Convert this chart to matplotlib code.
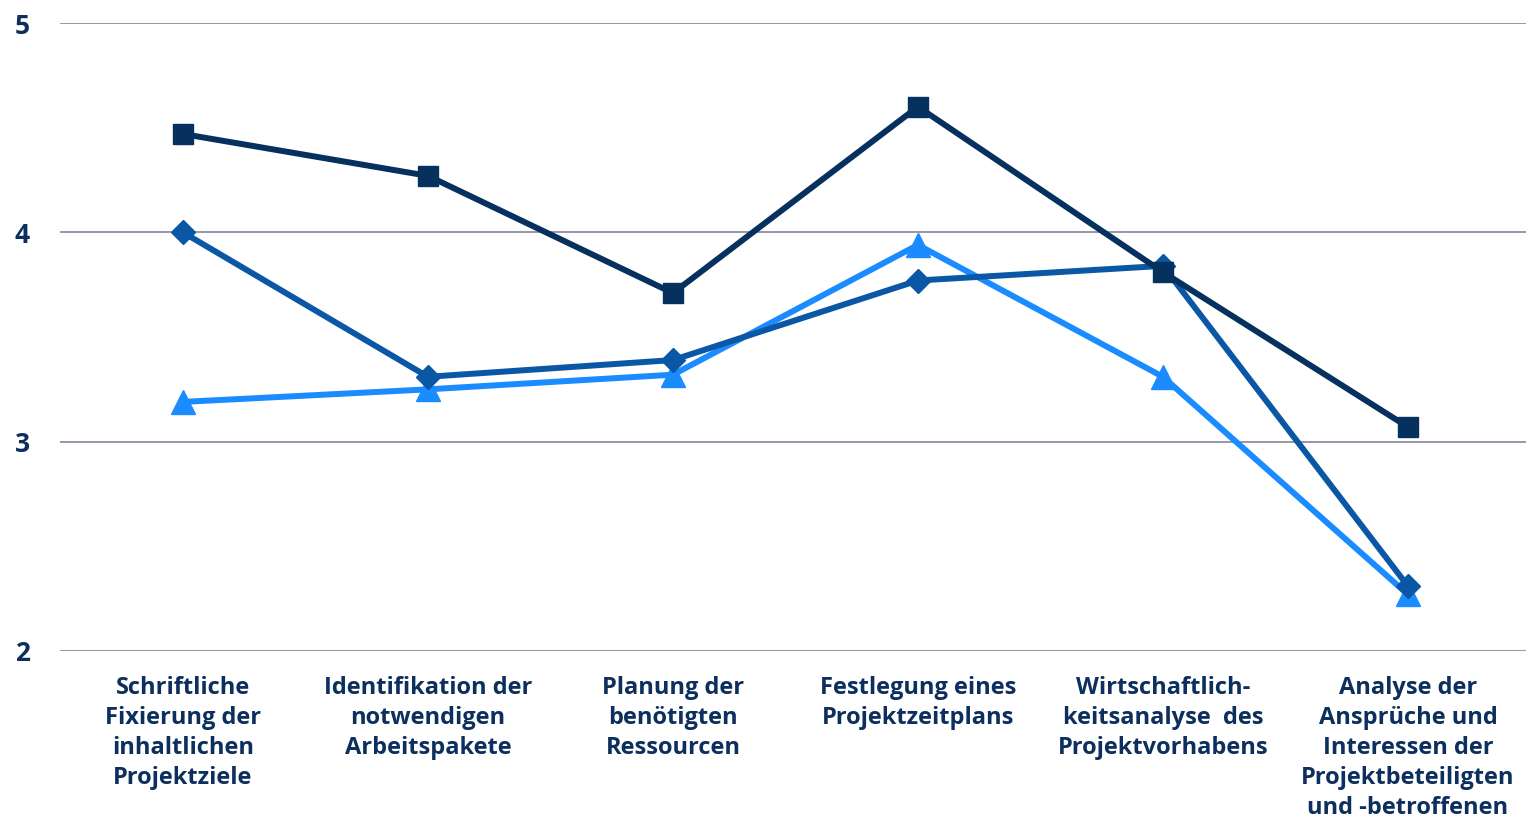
import matplotlib
matplotlib.use("Agg")
import matplotlib.pyplot as plt

plt.rcParams['font.family'] = ['Open Sans', 'DejaVu Sans']

categories = [
    "Schriftliche\nFixierung der\ninhaltlichen\nProjektziele",
    "Identifikation der\nnotwendigen\nArbeitspakete",
    "Planung der\nbenötigten\nRessourcen",
    "Festlegung eines\nProjektzeitplans",
    "Wirtschaftlich-\nkeitsanalyse  des\nProjektvorhabens",
    "Analyse der\nAnsprüche und\nInteressen der\nProjektbeteiligten\nund -betroffenen",
]
serie_quadrat = [4.47, 4.27, 3.71, 4.60, 3.81, 3.07]
serie_raute = [4.00, 3.31, 3.39, 3.77, 3.84, 2.31]
serie_dreieck = [3.19, 3.25, 3.32, 3.94, 3.31, 2.27]
y_ticks = [2, 3, 4, 5]

text_col = "#0c2f5e"
x = range(len(categories))

fig = plt.figure(figsize=(15.26, 8.23), dpi=100)
ax = fig.add_axes([0.0396, 0.209, 0.9633, 0.763])

ax.plot(x, serie_dreieck, color="#1a8cff", lw=4.3, marker="^", ms=17, zorder=3)
ax.plot(x, serie_raute, color="#0a57a6", lw=4.3, marker="D", ms=12, zorder=4)
ax.plot(x, serie_quadrat, color="#06305e", lw=4.3, marker="s", ms=15, zorder=5)

ax.set_xlim(-0.5, len(categories) - 0.5)
ax.set_ylim(2, 5)
ax.set_yticks(y_ticks)
ax.set_yticklabels([str(v) for v in y_ticks], fontsize=19, fontweight="bold", color=text_col)
ax.yaxis.grid(True, color="#85859a", lw=1.2)
ax.set_axisbelow(True)
ax.tick_params(axis="y", length=0, pad=22)
ax.tick_params(axis="x", length=0, pad=18)
ax.set_xticks(list(x))
ax.set_xticklabels(categories, fontsize=17, fontweight="bold", color=text_col,
                   linespacing=1.34, va="top", ha="center")
for s in ax.spines.values():
    s.set_visible(False)

fig.savefig("out.png", dpi=100)
